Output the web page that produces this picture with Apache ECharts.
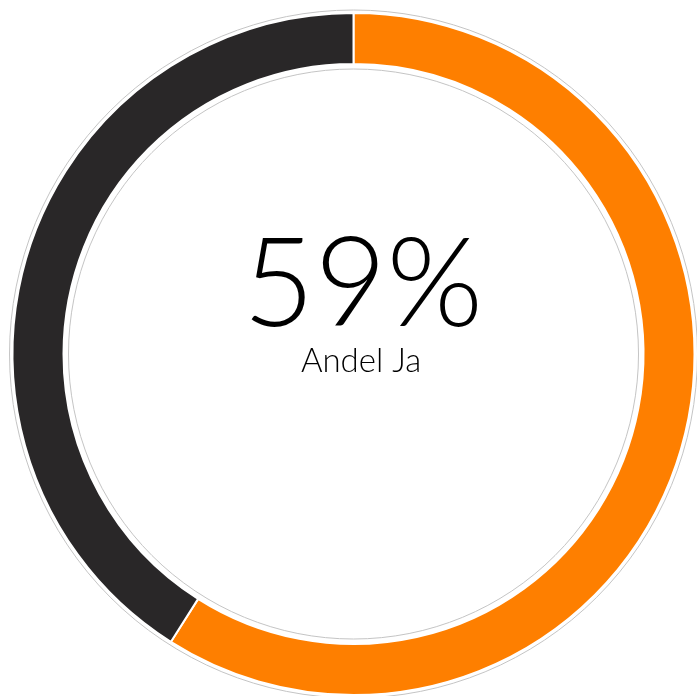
<!DOCTYPE html>
<html><head><meta charset="utf-8">
<script src="https://cdn.jsdelivr.net/npm/echarts@6/dist/echarts.min.js"></script>
<style>html,body{margin:0;padding:0;background:#fff}#c{width:697px;height:696px}</style>
</head><body><div id="c"></div>
<script>
const categories = ['Andel Ja', 'Andel Nej'];
const values = [59, 41];
const colors = ['#FE7F00', '#292728'];
const centerLabel = '59%';
const subLabel = 'Andel Ja';

const chart = echarts.init(document.getElementById('c'), null, {renderer: 'canvas'});
chart.setOption({
  animation: false,
  title: [
    {text: centerLabel, left: 358, top: 281, textAlign: 'center', textVerticalAlign: 'middle',
     textStyle: {fontFamily: 'Lato', fontWeight: 300, fontSize: 124, color: '#000'}},
    {text: subLabel, left: 356, top: 356, textAlign: 'center', textVerticalAlign: 'middle',
     textStyle: {fontFamily: 'Lato', fontWeight: 300, fontSize: 33, color: '#000'}}
  ],
  series: [
    {type: 'pie', silent: true, center: [353.5, 354], radius: [285, 344], label: {show: false},
     itemStyle: {color: '#fff', borderColor: '#c4c4c4', borderWidth: 1},
     data: [{value: 1, name: 'bg'}], z: 1},
    {type: 'pie', center: [353.5, 354], radius: [290, 341], startAngle: 90, clockwise: true,
     label: {show: false}, labelLine: {show: false},
     itemStyle: {borderColor: '#fff', borderWidth: 2},
     data: categories.map((n, i) => ({name: n, value: values[i], itemStyle: {color: colors[i]}})), z: 2}
  ]
});
</script></body></html>
